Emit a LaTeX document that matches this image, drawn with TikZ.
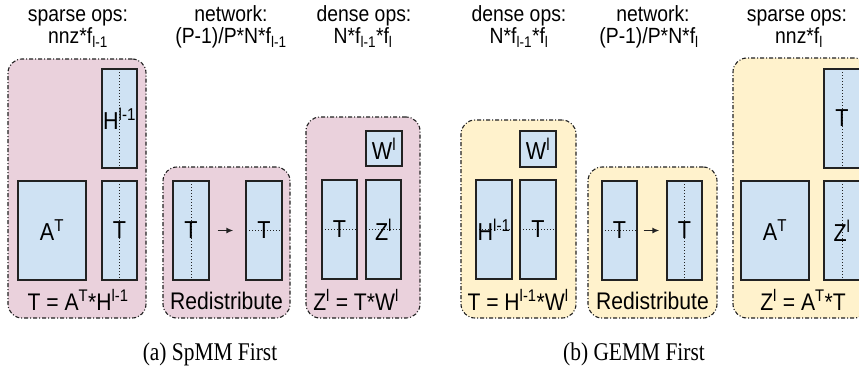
\documentclass[tikz,border=0pt]{standalone}
\usepackage{fontspec}
\setmainfont{Liberation Sans}
\newfontfamily\capfont{Liberation Serif}
\usetikzlibrary{arrows.meta}
\definecolor{grpPink}{HTML}{EAD1DC}
\definecolor{grpYellow}{HTML}{FFF2CC}
\definecolor{matBlue}{HTML}{CFE2F3}
\definecolor{edge}{HTML}{222222}
% narrow the sans text slightly
\newcommand\nx[1]{\scalebox{0.88}[1]{#1}}
\newcommand\capx[1]{\scalebox{0.84}[1]{#1}}
\tikzset{
  grp/.style={draw=edge, line width=1.1pt, rounded corners=14pt,
    dash pattern=on 4pt off 2pt on 1pt off 2pt, inner sep=0pt},
  pinkgrp/.style={grp, fill=grpPink},
  yellowgrp/.style={grp, fill=grpYellow},
  mat/.style={draw=edge, fill=matBlue, line width=1.3pt, inner sep=0pt,
    font=\fontsize{24.5}{28}\selectfont},
  vdiv/.style={path picture={\draw[dotted, line width=1pt]
    (path picture bounding box.north) -- (path picture bounding box.south);}},
  hdiv/.style={path picture={\draw[dotted, line width=1pt]
    (path picture bounding box.west) -- (path picture bounding box.east);}},
  lab/.style={inner sep=0pt, font=\fontsize{24}{28}\selectfont},
  head/.style={inner sep=0pt, anchor=base, font=\fontsize{22}{26}\selectfont},
  subcap/.style={inner sep=0pt, anchor=base, font=\capfont\fontsize{25.5}{30}\selectfont},
  move/.style={-{Latex[length=7pt,width=6pt]}, line width=1.5pt, draw=edge}
}
\begin{document}
\begin{tikzpicture}[x=1pt, y=-1pt]
\useasboundingbox (0,0) rectangle (859,367);
\clip (0,0) rectangle (859,367);

% ---------- (a) SpMM first ----------
\node[pinkgrp, minimum width=138pt, minimum height=259pt] (g1) at (77,188.5) {};
\node[mat, vdiv, minimum width=35pt, minimum height=99pt] (hA) at (119.5,118.5) {\nx{H\textsuperscript{l-1}}};
\node[mat, minimum width=68pt, minimum height=99pt] (aA) at (52,230.5) {\nx{A\textsuperscript{T}}};
\node[mat, vdiv, minimum width=35pt, minimum height=99pt] (tA) at (119.5,230.5) {\nx{T}};
\node[lab] (l1) at (78,300) {\nx{T = A\textsuperscript{T}*H\textsuperscript{l-1}}};

\node[pinkgrp, minimum width=127pt, minimum height=151pt] (g2) at (226.5,242.5) {};
\node[mat, vdiv, minimum width=36pt, minimum height=99pt] (tB) at (191,230.5) {\nx{T}};
\node[mat, hdiv, minimum width=36pt, minimum height=99pt] (tC) at (264,230.5) {\nx{T}};
\draw[move, shorten <=8pt, shorten >=12pt] (tB) -- (tC);
\node[lab] (l2) at (226.5,301) {\nx{Redistribute}};

\node[pinkgrp, minimum width=114pt, minimum height=201pt] (g3) at (363,217.5) {};
\node[mat, minimum width=36pt, minimum height=35pt] (wA) at (384,148.5) {\nx{W\textsuperscript{l}}};
\node[mat, hdiv, minimum width=35pt, minimum height=99pt] (tD) at (339.5,229.5) {\nx{T}};
\node[mat, hdiv, minimum width=35pt, minimum height=99pt] (zA) at (383.5,229.5) {\nx{Z\textsuperscript{l}}};
\node[lab] (l3) at (356,300) {\nx{Z\textsuperscript{l} = T*W\textsuperscript{l}}};

% ---------- (b) GEMM first ----------
\node[yellowgrp, minimum width=115pt, minimum height=198pt] (g4) at (518.5,219) {};
\node[mat, minimum width=36pt, minimum height=36pt] (wB) at (538,149) {\nx{W\textsuperscript{l}}};
\node[mat, hdiv, minimum width=36pt, minimum height=99pt] (hB) at (494,229.5) {\nx{H\textsuperscript{l-1}}};
\node[mat, hdiv, minimum width=36pt, minimum height=99pt] (tE) at (538,229.5) {\nx{T}};
\node[lab] (l4) at (518,300) {\nx{T = H\textsuperscript{l-1}*W\textsuperscript{l}}};

\node[yellowgrp, minimum width=129pt, minimum height=151pt] (g5) at (652.5,242.5) {};
\node[mat, hdiv, minimum width=35pt, minimum height=99pt] (tF) at (619.5,230.5) {\nx{T}};
\node[mat, vdiv, minimum width=35pt, minimum height=99pt] (tG) at (684.5,230.5) {\nx{T}};
\draw[move, shorten <=6pt, shorten >=7pt] (tF) -- (tG);
\node[lab] (l5) at (652.5,301) {\nx{Redistribute}};

\node[yellowgrp, minimum width=135pt, minimum height=260pt] (g6) at (800.5,188) {};
\node[mat, minimum width=68pt, minimum height=99pt] (aB) at (775,230.5) {\nx{A\textsuperscript{T}}};
\node[mat, vdiv, minimum width=36pt, minimum height=99pt] (tH) at (842,118.5) {\nx{T}};
\node[mat, vdiv, minimum width=36pt, minimum height=99pt] (zB) at (842,230.5) {\nx{Z\textsuperscript{l}}};
\node[lab] (l6) at (803,300) {\nx{Z\textsuperscript{l} = A\textsuperscript{T}*T}};

% ---------- cost headers ----------
\node[head] (h1a) at (78,21) {\nx{sparse ops:}};
\node[head] (h1b) at (78,43) {\nx{nnz*f\textsubscript{l-1}}};
\node[head] (h2a) at (231,21) {\nx{network:}};
\node[head] (h2b) at (231,43) {\nx{(P-1)/P*N*f\textsubscript{l-1}}};
\node[head] (h3a) at (364,21) {\nx{dense ops:}};
\node[head] (h3b) at (363,43) {\nx{N*f\textsubscript{l-1}*f\textsubscript{l}}};
\node[head] (h4a) at (519,21) {\nx{dense ops:}};
\node[head] (h4b) at (519,43) {\nx{N*f\textsubscript{l-1}*f\textsubscript{l}}};
\node[head] (h5a) at (653,21) {\nx{network:}};
\node[head] (h5b) at (649,43) {\nx{(P-1)/P*N*f\textsubscript{l}}};
\node[head] (h6a) at (797,21) {\nx{sparse ops:}};
\node[head] (h6b) at (799,43) {\nx{nnz*f\textsubscript{l}}};

% ---------- sub-captions ----------
\node[subcap] (ca) at (210,360) {\capx{(a) SpMM First}};
\node[subcap] (cb) at (634,360) {\capx{(b) GEMM First}};
\end{tikzpicture}
\end{document}
